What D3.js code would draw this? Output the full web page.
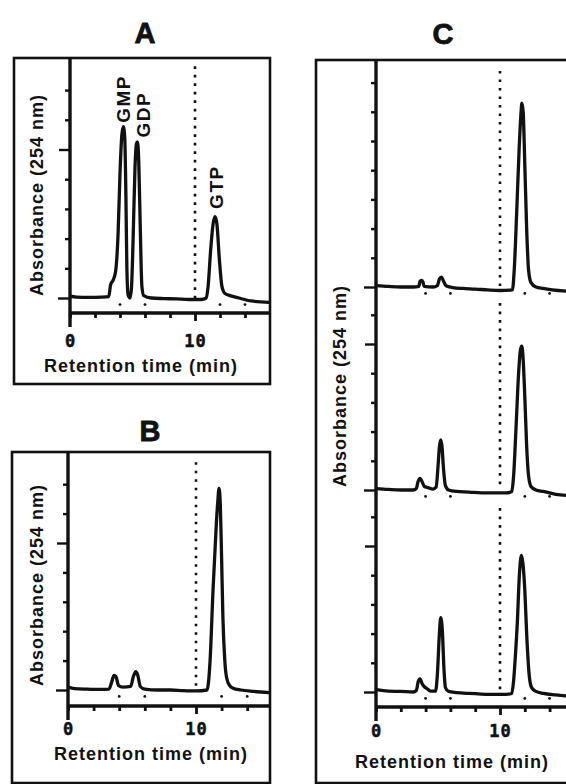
<!DOCTYPE html>
<html>
<head>
<meta charset="utf-8">
<script src="https://cdn.jsdelivr.net/npm/d3@7"></script>
<style>
html, body { margin: 0; padding: 0; background: #fff; }
svg { display: block; }
text { font-family: 'Liberation Sans', Arial, Helvetica, sans-serif; font-weight: bold; fill: #111; }
</style>
</head>
<body>
<div id="chart"></div>
<script>
// chromatogram data: [time (min), absorbance in tick units]
var xTicks = [0, 2, 4, 6, 8, 10, 12, 14];
var xLabels = [0, 10];
var markTimes = [4, 6, 12, 14];
var cutTime = 10;

var traceA = [[0,0.06],[0.5,0.03],[1.5,0.02],[2.5,0.03],[3.1,0.05],[3.25,0.45],[3.45,0.6],[3.65,0.9],
	[3.85,2.2],[4.0,4.2],[4.15,5.5],[4.27,5.77],[4.38,5.4],[4.47,3.5],[4.55,1.0],[4.65,0.1],[4.8,0.0],
	[4.92,0.35],[5.05,2.0],[5.2,4.4],[5.32,5.2],[5.4,5.26],[5.5,4.6],[5.62,2.4],[5.75,0.4],[5.9,0.08],
	[6.5,0.0],[7.5,-0.02],[8.5,-0.03],[9.5,-0.05],[10.5,-0.05],[10.9,0.0],[11.05,0.4],[11.25,1.6],
	[11.45,2.5],[11.6,2.74],[11.75,2.5],[11.95,1.3],[12.15,0.4],[12.4,0.15],[12.8,0.08],[13.5,0.0],
	[14.5,-0.1],[16,-0.15]];

var traceB = [[0,0.1],[0.5,0.05],[1.5,0.03],[2.5,0.02],[3.2,0.03],[3.4,0.25],[3.6,0.5],[3.75,0.45],
	[3.95,0.15],[4.3,0.1],[4.9,0.12],[5.1,0.45],[5.3,0.62],[5.45,0.5],[5.65,0.12],[6,0.03],[7,0.0],
	[8,0.0],[9,-0.02],[10,-0.03],[10.86,0.0],[11.1,1.0],[11.33,3.4],[11.59,5.67],[11.7,6.4],[11.8,6.86],
	[11.9,6.3],[12.0,4.5],[12.1,2.5],[12.25,1.0],[12.4,0.4],[12.63,0.15],[12.9,0.06],[13.5,0.0],
	[14.5,-0.05],[16,-0.1]];

var traceC1 = [[0,0.05],[1,0.02],[2,0.0],[3,0.0],[3.45,0.02],[3.55,0.2],[3.66,0.23],[3.78,0.18],
	[3.88,0.02],[4.6,0.0],[4.95,0.05],[5.12,0.28],[5.27,0.34],[5.45,0.2],[5.65,0.04],[6.2,-0.02],
	[7,-0.05],[8,-0.07],[9,-0.1],[10,-0.12],[11.0,-0.1],[11.15,0.6],[11.35,2.6],[11.55,4.8],
	[11.7,6.0],[11.77,6.3],[11.87,6.0],[12.0,4.2],[12.15,2.0],[12.3,0.6],[12.5,0.15],[12.9,0.0],
	[13.5,-0.05],[14.2,-0.1],[16,-0.15]];

var traceC2 = [[0,0.05],[1,0.02],[2,0.0],[3,0.0],[3.25,0.05],[3.4,0.3],[3.55,0.4],[3.7,0.3],
	[3.9,0.12],[4.2,0.08],[4.6,0.03],[4.85,0.1],[5.0,0.8],[5.12,1.5],[5.22,1.72],[5.32,1.5],[5.45,0.7],
	[5.6,0.15],[5.85,0.0],[6.5,-0.05],[7.5,-0.07],[8.5,-0.1],[9.5,-0.1],[10.5,-0.1],[10.95,-0.05],
	[11.1,0.5],[11.3,2.2],[11.5,4.0],[11.65,4.8],[11.75,4.93],[11.85,4.6],[12.0,3.2],[12.15,1.5],
	[12.3,0.5],[12.5,0.12],[12.9,0.0],[13.5,-0.05],[14.5,-0.15],[16,-0.2]];

var traceC3 = [[0,0.08],[1,0.03],[2,0.02],[3,0.0],[3.25,0.05],[3.4,0.35],[3.55,0.45],[3.7,0.3],
	[3.9,0.18],[4.1,0.12],[4.4,0.03],[4.8,0.03],[4.95,0.6],[5.1,1.9],[5.22,2.55],[5.35,2.1],[5.48,0.8],
	[5.6,0.15],[5.85,0.02],[6.5,-0.02],[7.5,-0.05],[8.5,-0.07],[9.5,-0.08],[10.5,-0.08],[10.95,-0.05],
	[11.1,0.4],[11.25,1.3],[11.4,2.4],[11.55,3.9],[11.72,4.68],[11.85,4.4],[12.0,3.5],[12.15,2.0],
	[12.35,0.6],[12.55,0.15],[12.9,0.02],[13.5,-0.05],[14.5,-0.1],[16,-0.15]];

var peakNames = ['GMP', 'GDP', 'GTP'];
var peakTimes = [4.2, 5.8, 11.7];
var peakLabelLevels = [5.9, 5.4, 3.0];

var panelTitles = ['A', 'B', 'C'];
var xTitle = 'Retention time (min)';
var yTitle = 'Absorbance (254 nm)';

var W = 566, H = 784;
var ink = '#111';

var svg = d3.select('#chart').append('svg')
	.attr('width', W)
	.attr('height', H);

// layout of the three framed panels (pixels)
var panels = [
	{title: panelTitles[0], box: [14, 58, 270, 384], titlePos: [145, 43],
		x0: 70, px10: 125, xEnd: 269, axisY: 313, labelY: 347, xTitlePos: [141, 372], yTitlePos: [43, 195],
		traces: [{data: traceA, base: 298, unit: 29.7, ticks: d3.range(0, 8), cutTop: 7.8}],
		peaks: true},
	{title: panelTitles[1], box: [12, 452, 270, 783], titlePos: [150, 441],
		x0: 68, px10: 128, xEnd: 269, axisY: 706, labelY: 735, xTitlePos: [151, 760], yTitlePos: [43, 585],
		traces: [{data: traceB, base: 690, unit: 29.4, ticks: d3.range(0, 8), cutTop: 7.75}]},
	{title: panelTitles[2], box: [316, 60, 600, 783], titlePos: [443, 44],
		x0: 376, px10: 124, xEnd: 566, axisY: 707, labelY: 737, xTitlePos: [452, 768], yTitlePos: [346, 386],
		traces: [
			{data: traceC1, base: 287, unit: 29.2, ticks: d3.range(0, 8), cutTop: 7.4, minorFive: true},
			{data: traceC2, base: 490, unit: 29.2, ticks: d3.range(0, 7), cutTop: 6.4},
			{data: traceC3, base: 692, unit: 29.2, ticks: d3.range(0, 7), cutTop: 6.3}
		]}
];

panels.forEach(function(p, pi){
	var g = svg.append('g');
	var b = p.box;

	g.append('clipPath')
		.attr('id', 'clip' + pi)
		.append('rect')
		.attr('x', p.x0).attr('y', b[1])
		.attr('width', p.xEnd - p.x0).attr('height', b[3] - b[1]);

	g.append('rect')
		.attr('x', b[0]).attr('y', b[1])
		.attr('width', b[2] - b[0]).attr('height', b[3] - b[1])
		.attr('fill', 'none')
		.attr('stroke', ink)
		.attr('stroke-width', 2.6);

	g.append('text')
		.attr('x', p.titlePos[0]).attr('y', p.titlePos[1])
		.attr('text-anchor', 'middle')
		.style('font-size', '29px')
		.style('font-weight', 900)
		.style('stroke', ink)
		.style('stroke-width', 0.8)
		.text(p.title);

	var x = d3.scaleLinear()
		.domain([0, 10])
		.range([p.x0, p.x0 + p.px10]);

	// x axis
	var xAxis = d3.axisBottom(x)
		.tickValues(xTicks)
		.tickSizeOuter(0)
		.tickFormat(function(d){ return xLabels.indexOf(d) >= 0 ? d : ''; });

	var ax = g.append('g')
		.attr('transform', 'translate(0,' + p.axisY + ')')
		.call(xAxis);
	ax.select('.domain').remove();
	ax.selectAll('.tick line')
		.attr('stroke', ink)
		.attr('stroke-width', 2.8)
		.attr('y2', function(d){ return d === 10 ? 8 : 5; });
	ax.selectAll('.tick text')
		.attr('fill', ink)
		.attr('y', p.labelY - p.axisY)
		.attr('dy', 0)
		.style('font-family', "'DejaVu Sans Mono', monospace")
		.style('font-size', '17px')
		.style('font-weight', 'bold')
		.style('stroke', ink)
		.style('stroke-width', 0.5)
		.style('letter-spacing', '1px');

	g.append('line')
		.attr('x1', p.x0).attr('x2', p.xEnd)
		.attr('y1', p.axisY).attr('y2', p.axisY)
		.attr('stroke', ink)
		.attr('stroke-width', 3.4);

	// y axis spine, running into the 0 tick below the time axis
	g.append('line')
		.attr('x1', p.x0).attr('x2', p.x0)
		.attr('y1', b[1]).attr('y2', p.axisY + 14)
		.attr('stroke', ink)
		.attr('stroke-width', 3.4);

	g.append('text')
		.attr('x', p.xTitlePos[0]).attr('y', p.xTitlePos[1])
		.attr('text-anchor', 'middle')
		.style('font-size', '18px')
		.style('letter-spacing', '1px')
		.text(xTitle);

	g.append('text')
		.attr('transform', 'translate(' + p.yTitlePos[0] + ',' + p.yTitlePos[1] + ') rotate(-90)')
		.attr('text-anchor', 'middle')
		.style('font-size', '18px')
		.style('letter-spacing', '1px')
		.text(yTitle);

	p.traces.forEach(function(t){
		var y = d3.scaleLinear()
			.domain([0, 1])
			.range([t.base, t.base - t.unit]);

		var yAxis = d3.axisLeft(y)
			.tickValues(t.ticks)
			.tickSizeOuter(0)
			.tickFormat('');

		var ay = g.append('g')
			.attr('transform', 'translate(' + p.x0 + ',0)')
			.call(yAxis);
		ay.select('.domain').remove();
		ay.selectAll('.tick line')
			.attr('stroke', ink)
			.attr('stroke-width', 2.4)
			.attr('x2', function(d){
				if (d === 0) return -12;
				if (d === 5 && !t.minorFive) return -11;
				return -5;
			});

		// dotted marker at the 10 min cut
		g.append('line')
			.attr('x1', x(cutTime)).attr('x2', x(cutTime))
			.attr('y1', y(t.cutTop)).attr('y2', y(0))
			.attr('stroke', ink)
			.attr('stroke-width', 2.6)
			.attr('stroke-dasharray', '2.6 5.9');

		g.selectAll(null)
			.data(markTimes)
			.enter().append('circle')
			.attr('cx', function(d){ return x(d); })
			.attr('cy', y(-0.22))
			.attr('r', 1.4)
			.attr('fill', ink);

		var line = d3.line()
			.x(function(d){ return x(d[0]); })
			.y(function(d){ return y(d[1]); })
			.curve(d3.curveMonotoneX);

		g.append('path')
			.datum(t.data)
			.attr('clip-path', 'url(#clip' + pi + ')')
			.attr('fill', 'none')
			.attr('stroke', ink)
			.attr('stroke-width', 3.3)
			.attr('stroke-linejoin', 'round')
			.attr('d', line);

		if (p.peaks) {
			peakNames.forEach(function(name, i){
				g.append('text')
					.attr('transform', 'translate(' + (x(peakTimes[i]) + 7) + ',' + y(peakLabelLevels[i]) + ') rotate(-90)')
					.attr('text-anchor', 'start')
					.style('font-size', '19px')
					.style('letter-spacing', '1.5px')
					.text(name);
			});
		}
	});
});
</script>
</body>
</html>
